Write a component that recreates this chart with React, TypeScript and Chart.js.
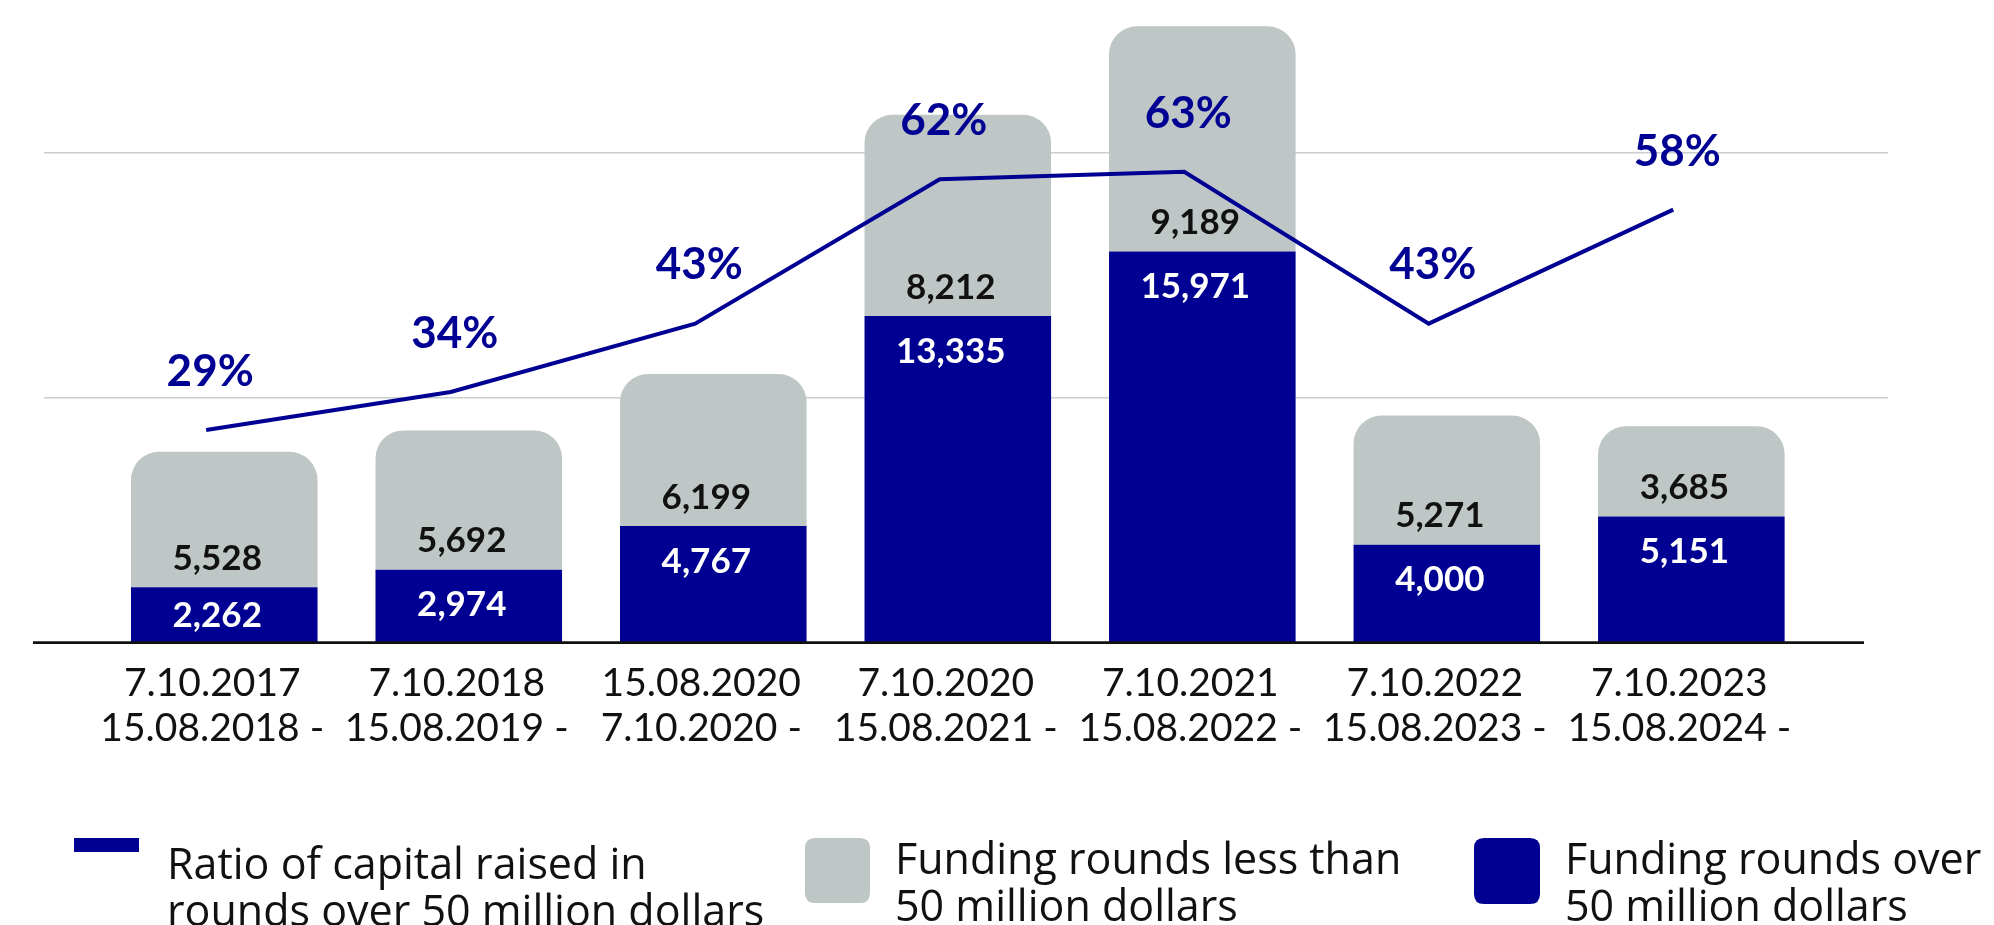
import React, { useEffect, useRef } from 'react';
import { Chart, registerables } from 'chart.js';

Chart.register(...registerables);

// ---------- data ----------
const periodStart = ['7.10.2017', '7.10.2018', '15.08.2020', '7.10.2020', '7.10.2021', '7.10.2022', '7.10.2023'];
const periodEnd = ['15.08.2018 -', '15.08.2019 -', '7.10.2020 -', '15.08.2021 -', '15.08.2022 -', '15.08.2023 -', '15.08.2024 -'];
const roundsOver50M = [2262, 2974, 4767, 13335, 15971, 4000, 5151];
const roundsUnder50M = [5528, 5692, 6199, 8212, 9189, 5271, 3685];
const ratioOver50M = [29, 34, 43, 62, 63, 43, 58];
const gridValues = [10000, 20000];

const legendRatio = ['Ratio of capital raised in', 'rounds over 50 million dollars'];
const legendUnder = ['Funding rounds less than', '50 million dollars'];
const legendOver = ['Funding rounds over', '50 million dollars'];

// ---------- styles ----------
const NAVY = '#000092';
const GREY = '#BEC6C6';
const GRID = '#C9CECE';
const INK = '#111111';
const NUM_FONT = 'Lato, "Open Sans", sans-serif';
const LEGEND_FONT = '"Open Sans", Lato, sans-serif';

const fmt = (v: number) => v.toLocaleString('en-US');

function roundRect(ctx: CanvasRenderingContext2D, x: number, y: number, w: number, h: number, r: number) {
  ctx.beginPath();
  ctx.moveTo(x + r, y);
  ctx.lineTo(x + w - r, y);
  ctx.quadraticCurveTo(x + w, y, x + w, y + r);
  ctx.lineTo(x + w, y + h - r);
  ctx.quadraticCurveTo(x + w, y + h, x + w - r, y + h);
  ctx.lineTo(x + r, y + h);
  ctx.quadraticCurveTo(x, y + h, x, y + h - r);
  ctx.lineTo(x, y + r);
  ctx.quadraticCurveTo(x, y, x + r, y);
  ctx.closePath();
}

const decorPlugin = {
  id: 'decor',
  beforeDatasetsDraw(chart: any) {
    const ctx: CanvasRenderingContext2D = chart.ctx;
    const y = chart.scales.y;
    ctx.save();
    ctx.strokeStyle = GRID;
    ctx.lineWidth = 1.5;
    gridValues.forEach((v) => {
      const py = y.getPixelForValue(v);
      ctx.beginPath();
      ctx.moveTo(44, py);
      ctx.lineTo(1888, py);
      ctx.stroke();
    });
    ctx.restore();
  },
  afterDatasetsDraw(chart: any) {
    const ctx: CanvasRenderingContext2D = chart.ctx;
    const y = chart.scales.y;
    const base = y.getPixelForValue(0);
    ctx.save();
    // baseline
    ctx.strokeStyle = INK;
    ctx.lineWidth = 2.7;
    ctx.beginPath();
    ctx.moveTo(33, base);
    ctx.lineTo(1864, base);
    ctx.stroke();

    // bar value labels
    const numSize = 35;
    ctx.font = `bold ${numSize}px ${NUM_FONT}`;
    ctx.textAlign = 'center';
    ctx.textBaseline = 'alphabetic';
    const blueMeta = chart.getDatasetMeta(0);
    blueMeta.data.forEach((el: any, i: number) => {
      const boundary = el.y;
      const cx = el.x - 7;
      ctx.fillStyle = INK;
      ctx.fillText(fmt(roundsUnder50M[i]), cx, boundary - 30 + 0.36 * numSize);
      ctx.fillStyle = '#ffffff';
      const cy = Math.min(boundary + 34, base - 28);
      ctx.fillText(fmt(roundsOver50M[i]), cx, cy + 0.36 * numSize);
    });

    // ratio labels
    const pctSize = 44;
    ctx.font = `bold ${pctSize}px ${NUM_FONT}`;
    ctx.fillStyle = NAVY;
    const lineMeta = chart.getDatasetMeta(2);
    lineMeta.data.forEach((pt: any, i: number) => {
      ctx.fillText(`${ratioOver50M[i]}%`, pt.x + 4, pt.y - 60 + 0.36 * pctSize);
    });
    ctx.restore();
  },
  afterDraw(chart: any) {
    const ctx: CanvasRenderingContext2D = chart.ctx;
    ctx.save();
    // legend markers
    ctx.fillStyle = NAVY;
    ctx.fillRect(74, 838, 65, 14);
    ctx.fillStyle = GREY;
    roundRect(ctx, 805, 838, 65, 65, 10);
    ctx.fill();
    ctx.fillStyle = NAVY;
    roundRect(ctx, 1474, 838, 66, 66, 10);
    ctx.fill();
    // legend texts
    ctx.font = `43px ${LEGEND_FONT}`;
    ctx.fillStyle = INK;
    ctx.textAlign = 'left';
    ctx.textBaseline = 'alphabetic';
    legendRatio.forEach((t, i) => ctx.fillText(t, 167, 879 + i * 47));
    legendUnder.forEach((t, i) => ctx.fillText(t, 895, 874 + i * 47));
    legendOver.forEach((t, i) => ctx.fillText(t, 1565, 874 + i * 47));
    ctx.restore();
  },
};

export default function App() {
  const canvasRef = useRef<HTMLCanvasElement | null>(null);

  useEffect(() => {
    if (!canvasRef.current) return;
    const lineShift = 0.074;
    const chart = new Chart(canvasRef.current, {
      type: 'bar',
      data: {
        labels: periodStart.map((s, i) => [s, periodEnd[i]]),
        datasets: [
          {
            type: 'bar',
            label: legendOver.join(' '),
            data: roundsOver50M,
            backgroundColor: NAVY,
            stack: 's',
            grouped: false,
            order: 2,
            barPercentage: 0.763,
            categoryPercentage: 1,
            borderWidth: 0,
            borderRadius: 0,
          },
          {
            type: 'bar',
            label: legendUnder.join(' '),
            data: roundsUnder50M,
            backgroundColor: GREY,
            stack: 's',
            grouped: false,
            order: 3,
            barPercentage: 0.763,
            categoryPercentage: 1,
            borderWidth: 0,
            borderRadius: { topLeft: 28, topRight: 28, bottomLeft: 0, bottomRight: 0 },
          },
          {
            type: 'line',
            label: legendRatio.join(' '),
            data: ratioOver50M.map((v, i) => ({ x: i, y: v })),
            xAxisID: 'xl',
            yAxisID: 'y2',
            borderColor: NAVY,
            backgroundColor: NAVY,
            borderWidth: 4,
            pointRadius: 0,
            pointHoverRadius: 0,
            tension: 0,
            fill: false,
            order: 0,
          } as any,
        ],
      },
      options: {
        responsive: false,
        devicePixelRatio: 1,
        animation: false,
        events: [],
        layout: { padding: { left: 102, right: 180.4, top: 5.7, bottom: 0 } },
        plugins: {
          legend: { display: false },
          tooltip: { enabled: false },
          title: { display: false },
        },
        scales: {
          x: {
            type: 'category',
            offset: true,
            stacked: true,
            grid: { display: false, drawTicks: false },
            border: { display: false },
            ticks: {
              color: INK,
              font: { family: NUM_FONT, size: 39, lineHeight: 1.154 },
              padding: 18,
              labelOffset: -12,
              maxRotation: 0,
              minRotation: 0,
              autoSkip: false,
            },
            afterFit: (s: any) => {
              s.height = 925 - 642.7;
            },
          },
          xl: {
            type: 'linear',
            axis: 'x',
            display: false,
            offset: false,
            min: -0.5 + lineShift,
            max: 6.5 + lineShift,
          },
          y: {
            type: 'linear',
            stacked: true,
            display: false,
            min: 0,
            max: 26000,
          },
          y2: {
            type: 'linear',
            position: 'right',
            display: false,
            min: 1,
            max: 84.85,
            grid: { drawOnChartArea: false },
          },
        } as any,
      },
      plugins: [decorPlugin],
    });
    return () => chart.destroy();
  }, []);

  return (
    <div style={{ position: 'absolute', left: 0, top: 0, width: 1994, height: 925, background: '#ffffff' }}>
      <canvas ref={canvasRef} width={1994} height={925} style={{ display: 'block', width: 1994, height: 925 }} />
    </div>
  );
}
